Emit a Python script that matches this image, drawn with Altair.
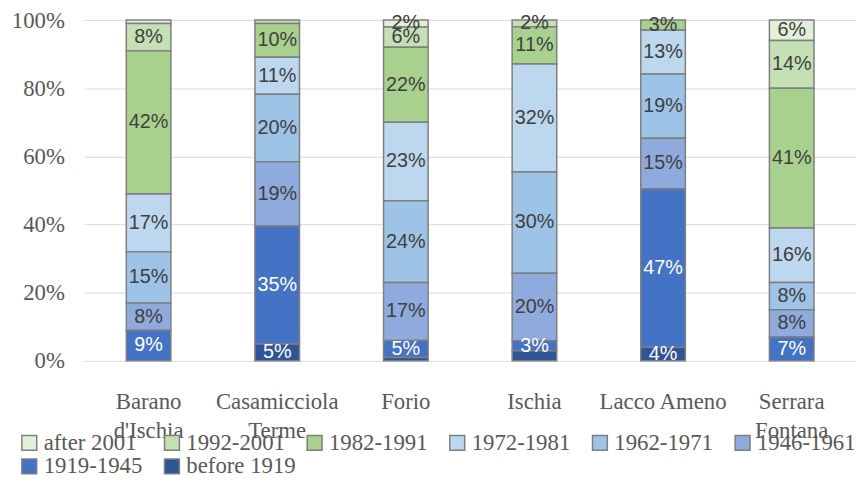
import altair as alt
import pandas as pd

sites = ["Barano d'Ischia", "Casamicciola Terme", "Forio", "Ischia", "Lacco Ameno", "Serrara Fontana"]
periods = ["after 2001", "1992-2001", "1982-1991", "1972-1981", "1962-1971", "1946-1961", "1919-1945", "before 1919"]
colors = ["#e2f0d9", "#c5e0b4", "#a9d18e", "#bdd7ee", "#9dc3e6", "#8faadc", "#4472c4", "#2f5597"]

# percentage of buildings per construction period (same order as sites)
after_2001  = [1, 0, 2, 0, 0, 6]
y1992_2001  = [8, 1, 6, 2, 0, 14]
y1982_1991  = [42, 10, 22, 11, 3, 41]
y1972_1981  = [17, 11, 23, 32, 13, 16]
y1962_1971  = [15, 20, 24, 30, 19, 8]
y1946_1961  = [8, 19, 17, 20, 15, 8]
y1919_1945  = [9, 35, 5, 3, 47, 7]
before_1919 = [0, 5, 1, 3, 4, 0]

series = [after_2001, y1992_2001, y1982_1991, y1972_1981, y1962_1971, y1946_1961, y1919_1945, before_1919]
hidden_labels = [("Ischia", "before 1919")]

rows = []
for k, (p, vals) in enumerate(zip(periods, series)):
    for s, v in zip(sites, vals):
        if v > 0:
            rows.append({"site": s, "period": p, "ord": k, "value": v,
                         "show": (v >= 2) and ((s, p) not in hidden_labels)})
df = pd.DataFrame(rows)

serif = "Liberation Serif"
gray = "#595959"

base = alt.Chart(df).transform_stack(
    stack="value", groupby=["site"],
    sort=[alt.SortField("ord", order="descending")],
    as_=["y0", "y1"], offset="normalize"
)

xenc = alt.X("site:N", sort=sites, title=None,
             scale=alt.Scale(paddingInner=0, paddingOuter=0),
             axis=alt.Axis(labelAngle=0, ticks=False, domain=False, labelFont=serif,
                           labelFontSize=23, labelColor=gray, labelPadding=30,
                           labelLineHeight=29, labelLimit=300, labelOverlap=False,
                           labelExpr="datum.label == 'Lacco Ameno' ? datum.label : split(datum.label, ' ')"))

bars = base.mark_bar(stroke="#7f7f7f", strokeWidth=1.5, size=45).encode(
    x=xenc,
    y=alt.Y("y0:Q", title=None, scale=alt.Scale(domain=[0, 1], nice=False),
            axis=alt.Axis(format=".0%", values=[0, 0.2, 0.4, 0.6, 0.8, 1.0], grid=True,
                          gridColor="#d9d9d9", gridWidth=1, domain=False, ticks=False,
                          labelFont=serif, labelFontSize=23, labelColor=gray, labelPadding=20)),
    y2="y1:Q",
    color=alt.Color("period:N", scale=alt.Scale(domain=periods, range=colors),
                    legend=alt.Legend(title=None, orient="none", legendX=-67, legendY=415,
                                      direction="horizontal", columns=6, symbolType="square",
                                      symbolSize=225, symbolStrokeColor="#7f7f7f",
                                      symbolStrokeWidth=1.5, labelFont=serif, labelFontSize=23,
                                      labelColor=gray, labelOffset=3, columnPadding=7,
                                      rowPadding=0, gridAlign="all", labelLimit=300)),
)

labels = base.transform_calculate(
    mid="(datum.y0 + datum.y1) / 2", txt="datum.value + '%'"
).transform_filter("datum.show").mark_text(font="Liberation Sans", fontSize=20).encode(
    x=alt.X("site:N", sort=sites),
    y="mid:Q",
    text="txt:N",
    color=alt.condition(alt.FieldOneOfPredicate(field="period", oneOf=["1919-1945", "before 1919"]),
                        alt.value("white"), alt.value("#404040")),
)

chart = alt.layer(bars, labels).properties(
    width=779, height=344,
    padding={"left": 77, "top": 10, "right": 0, "bottom": 113},
    autosize=alt.AutoSizeParams(type="none"),
).configure_view(stroke=None)

chart.save("out.html", embed_options={"renderer": "svg", "actions": False})
